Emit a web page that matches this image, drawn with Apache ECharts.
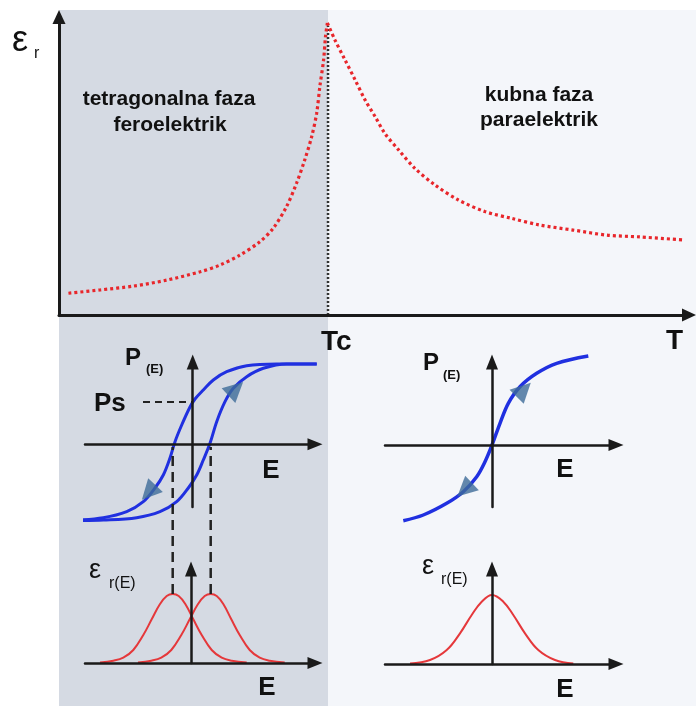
<!DOCTYPE html>
<html><head><meta charset="utf-8">
<script src="https://cdn.jsdelivr.net/npm/echarts@6/dist/echarts.min.js"></script>
<style>html,body{margin:0;padding:0;background:#fff}#c{width:696px;height:706px}</style>
</head><body><div id="c"></div>
<script>
// ---------- data ----------
const Tc = 42.7;
const epsFerro = [[1.5,7.3],[6.5,8.4],[11.8,9.7],[17.1,11.7],[22.4,14.5],[25.6,16.8],[28.7,20.1],[31.9,24.6],[34.0,29.1],[36.1,36.3],[37.7,44.2],[39.0,52.0],[40.1,59.8],[40.9,67.7],[41.4,76.6],[42.0,85.6],[42.3,93.4],[42.6,98.0]];
const epsPara = [[42.6,98.0],[43.8,92.3],[45.4,85.6],[47.0,78.9],[48.6,72.1],[50.2,66.5],[51.7,61.0],[53.9,55.4],[56.5,49.2],[59.7,43.6],[63.4,38.6],[67.6,34.7],[71.9,32.4],[76.3,30.2],[81.6,28.5],[87.0,26.8],[92.2,26.2],[99.0,25.2]];
const tcLine = [[Tc,0],[Tc,97]];

const hystDown = [[12.4,8.03],[8.4,8.03],[5.4,7.86],[3.4,7.26],[2.06,6.43],[1.06,5.43],[0.23,4.53],[-0.27,3.73],[-1.1,1.93],[-1.77,0.26],[-2.27,-1.37],[-2.94,-3.07],[-3.77,-4.37],[-4.94,-5.74],[-6.6,-6.74],[-8.94,-7.34],[-12.27,-7.64]];
const hystUp = [[-12.27,-7.64],[-8.94,-7.57],[-5.6,-7.34],[-3.27,-6.74],[-1.6,-5.74],[-0.44,-4.37],[0.4,-3.07],[1.06,-1.57],[1.73,0.1],[2.4,2.26],[3.23,4.26],[4.06,5.6],[5.4,6.76],[7.06,7.6],[9.4,8.03],[12.4,8.03]];
const psLine = [[-4.97,4.23],[0,4.23]];
const hystArrowUp = [[4.31,5.55]];
const hystArrowDown = [[-4.4,-4.82]];

const paraCurve = [[-8.87,-7.57],[-6.87,-7.0],[-4.53,-5.83],[-2.87,-4.67],[-1.53,-3.17],[-0.7,-1.67],[0,0],[0.8,2.17],[1.63,4.17],[2.8,5.83],[4.47,7.17],[6.47,8.17],[9.63,8.9]];
const paraArrowUp = [[3.17,5.53]];
const paraArrowDown = [[-2.73,-4.48]];

const gaussLeftA = [[-9.1,0.05],[-7.77,0.23],[-6.77,0.53],[-5.77,1.3],[-4.77,2.8],[-3.93,4.37],[-3.1,5.9],[-2.43,6.7],[-1.83,6.9],[-1.23,6.7],[-0.57,5.9],[0.23,4.37],[1.07,2.8],[2.07,1.3],[3.07,0.53],[4.07,0.23],[5.57,0.05]];
const gaussLeftB = [[-5.3,0.05],[-3.97,0.23],[-2.97,0.53],[-1.97,1.3],[-0.97,2.8],[-0.13,4.37],[0.7,5.9],[1.37,6.7],[1.97,6.9],[2.57,6.7],[3.23,5.9],[4.03,4.37],[4.87,2.8],[5.87,1.3],[6.87,0.53],[7.87,0.23],[9.37,0.05]];
const gaussRight = [[-8.2,0.05],[-6.2,0.4],[-4.53,1.4],[-3.2,3.07],[-2.03,4.9],[-1.03,6.23],[0,6.9],[1.13,6.23],[2.13,4.9],[3.3,3.07],[4.63,1.4],[6.3,0.4],[8.13,0.05]];
const dropA = [[-1.83,6.9],[-1.83,21.6]];
const dropB = [[1.97,6.9],[1.97,21.6]];

// ---------- chart ----------
const FONT = "'Liberation Sans', Arial, sans-serif";
const AX = '#1a1a1a';
const bgMax = 100 * (696 - 59) / (689 - 59);

function axisPair(gi, xr, yr, lw, arrow, show) {
  const mk = () => ({show: show, onZero: true, symbol: ['none', 'triangle'], symbolSize: arrow, lineStyle: {color: AX, width: lw}});
  const base = {gridIndex: gi, type: 'value', z: 20, axisTick: {show: false}, axisLabel: {show: false}, splitLine: {show: false}};
  return {
    x: Object.assign({}, base, {min: xr[0], max: xr[1], axisLine: mk()}),
    y: Object.assign({}, base, {min: yr[0], max: yr[1], axisLine: mk()})
  };
}
const axes = [
  axisPair(0, [0, bgMax], [0, 1], 0, [1,1], false),
  axisPair(1, [0, 100], [0, 100], 3, [13, 14], true),
  axisPair(2, [-10.77, 12.23], [-6.27, 8.23], 2.5, [12, 15], true),
  axisPair(3, [-10.7, 12.4], [-6.2, 8.3], 2.5, [12, 15], true),
  axisPair(4, [-10.6, 12.4], [0, 9.4], 2.5, [12, 15], true),
  axisPair(5, [-10.7, 12.4], [0, 9.5], 2.5, [12, 15], true)
];

function line(xi, data, color, width, type, smooth, z) {
  return {type: 'line', xAxisIndex: xi, yAxisIndex: xi, data: data, showSymbol: false, symbol: 'none', clip: false,
    smooth: smooth, lineStyle: {color: color, width: width, type: type}, z: z || 3, silent: true, animation: false};
}
function arrow(xi, data, rot) {
  return {type: 'scatter', xAxisIndex: xi, yAxisIndex: xi, data: data, symbol: 'triangle', symbolSize: [20, 20],
    symbolRotate: rot, itemStyle: {color: '#3d6b98'}, z: 25, silent: true, animation: false, clip: false};
}

const BLUE = '#2030e0';
const RED = '#e5383b';
const series = [
  {type: 'line', xAxisIndex: 0, yAxisIndex: 0, data: [[0, 0]], showSymbol: false, lineStyle: {width: 0}, z: -10, silent: true, animation: false,
    markArea: {silent: true, animation: false, z: -10, data: [
      [{xAxis: 0, itemStyle: {color: '#d5dae3'}}, {xAxis: Tc}],
      [{xAxis: Tc, itemStyle: {color: '#f4f6fa'}}, {xAxis: bgMax}]
    ]}},
  line(1, tcLine, '#333', 2.5, [2, 2], false, 3),
  line(1, epsFerro, '#e8262b', 3.2, [3, 3], 0.3, 4),
  line(1, epsPara, '#e8262b', 3.2, [3, 3], 0.3, 4),
  line(2, hystDown, BLUE, 3, 'solid', 0.35),
  line(2, hystUp, BLUE, 3, 'solid', 0.35),
  line(2, psLine, '#222', 2, [7, 5], false),
  arrow(2, hystArrowUp, -47),
  arrow(2, hystArrowDown, 137),
  line(3, paraCurve, BLUE, 3.5, 'solid', 0.35),
  arrow(3, paraArrowUp, -45),
  arrow(3, paraArrowDown, 133),
  line(4, gaussLeftA, RED, 2, 'solid', 0.4),
  line(4, gaussLeftB, RED, 2, 'solid', 0.4),
  line(4, dropA, '#222', 2.5, [10, 6], false),
  line(4, dropB, '#222', 2.5, [10, 6], false),
  line(5, gaussRight, RED, 2, 'solid', 0.4)
];

function txt(text, x, y, size, bold, align) {
  return {type: 'text', x: x, y: y, z: 100, silent: true,
    style: {text: text, fill: '#111', font: (bold ? 'bold ' : '') + size + 'px ' + FONT, textAlign: align || 'left', textVerticalAlign: 'middle'}};
}

const option = {
  backgroundColor: '#ffffff',
  animation: false,
  grid: [
    {left: 59, top: 10, right: 0, bottom: 0},
    {left: 59, top: 17, width: 630, height: 298},
    {left: 85, top: 362, width: 230, height: 145},
    {left: 385, top: 362, width: 231, height: 145},
    {left: 85, top: 569, width: 230, height: 94},
    {left: 385, top: 569, width: 231, height: 95}
  ],
  xAxis: axes.map(a => a.x),
  yAxis: axes.map(a => a.y),
  series: series,
  graphic: [
    txt('ε', 12, 41, 36, false),
    txt('r', 34, 54, 16, false),
    txt('tetragonalna faza', 169, 99, 21, true, 'center'),
    txt('feroelektrik', 170, 125, 21, true, 'center'),
    txt('kubna faza', 539, 95, 21, true, 'center'),
    txt('paraelektrik', 539, 120, 21, true, 'center'),
    txt('Tc', 321, 342, 28, true),
    txt('T', 666, 341, 28, true),
    txt('P', 125, 358, 24, true),
    txt('(E)', 146, 369, 13, true),
    txt('Ps', 94, 404, 26, true),
    txt('E', 271, 471, 26, true, 'center'),
    txt('P', 423, 363, 24, true),
    txt('(E)', 443, 375, 13, true),
    txt('E', 565, 470, 26, true, 'center'),
    txt('ε', 89, 571, 27, false),
    txt('r(E)', 109, 584, 16, false),
    txt('E', 267, 688, 26, true, 'center'),
    txt('ε', 422, 567, 27, false),
    txt('r(E)', 441, 580, 16, false),
    txt('E', 565, 690, 26, true, 'center')
  ]
};
const chart = echarts.init(document.getElementById('c'), null, {renderer: 'canvas'});
chart.setOption(option);
</script>
</body></html>
